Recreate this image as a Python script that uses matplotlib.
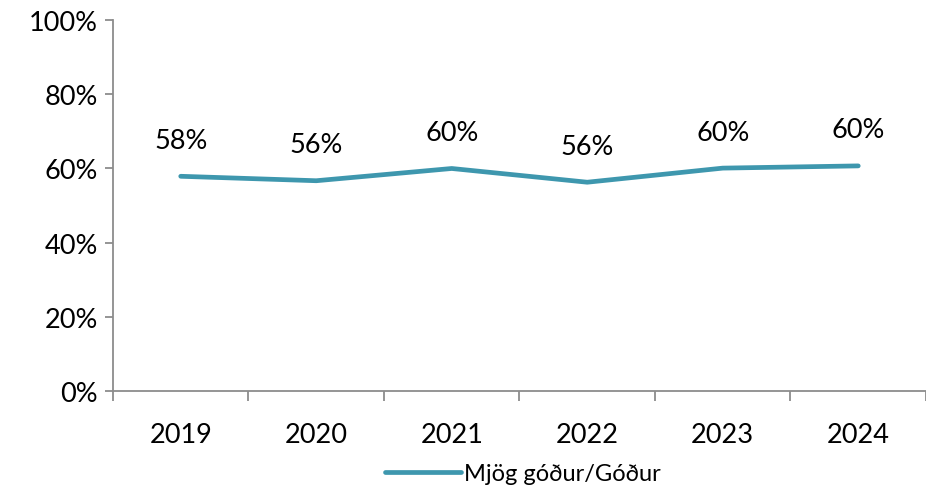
import matplotlib.pyplot as plt
from matplotlib.ticker import PercentFormatter

years = ["2019", "2020", "2021", "2022", "2023", "2024"]
values = [57.9, 56.7, 60.0, 56.3, 60.1, 60.7]
labels = ["58%", "56%", "60%", "56%", "60%", "60%"]
series_name = "Mjög góður/Góður"

plt.rcParams['font.family'] = ['Lato', 'DejaVu Sans']

fig = plt.figure(figsize=(9.26, 4.89), dpi=100)
ax = fig.add_axes([0.122, 0.198, 0.878, 0.759])

x = range(len(years))
ax.plot(x, values, color='#3E97AE', linewidth=3.4, solid_capstyle='round', label=series_name)

# datalabels above points
for i, (v, t) in enumerate(zip(values, labels)):
    ax.annotate(t, (i, v), xytext=(0, 26), textcoords='offset points',
                ha='center', va='center', fontsize=19.5)

ax.set_ylim(0, 100)
ax.set_yticks(range(0, 101, 20))
ax.yaxis.set_major_formatter(PercentFormatter(decimals=0))
ax.set_xlim(-0.5, len(years) - 0.5)
ax.set_xticks(list(x))
ax.set_xticklabels(years)
ax.set_xticks([i - 0.5 for i in range(len(years) + 1)], minor=True)
ax.tick_params(axis='x', which='major', length=0, pad=22, labelsize=19.5)
ax.tick_params(axis='x', which='minor', length=7, color='#8c8c8c', width=1.3)
ax.tick_params(axis='y', length=6, color='#8c8c8c', width=1.3, labelsize=19.5, pad=5)

for s in ['top', 'right']:
    ax.spines[s].set_visible(False)
for s in ['left', 'bottom']:
    ax.spines[s].set_color('#8c8c8c')
    ax.spines[s].set_linewidth(1.3)

fig.legend(loc='lower center', bbox_to_anchor=(0.565, -0.036), frameon=False,
           fontsize=17, handlelength=3.2, handletextpad=0.15)

fig.savefig('out.png', dpi=100)
